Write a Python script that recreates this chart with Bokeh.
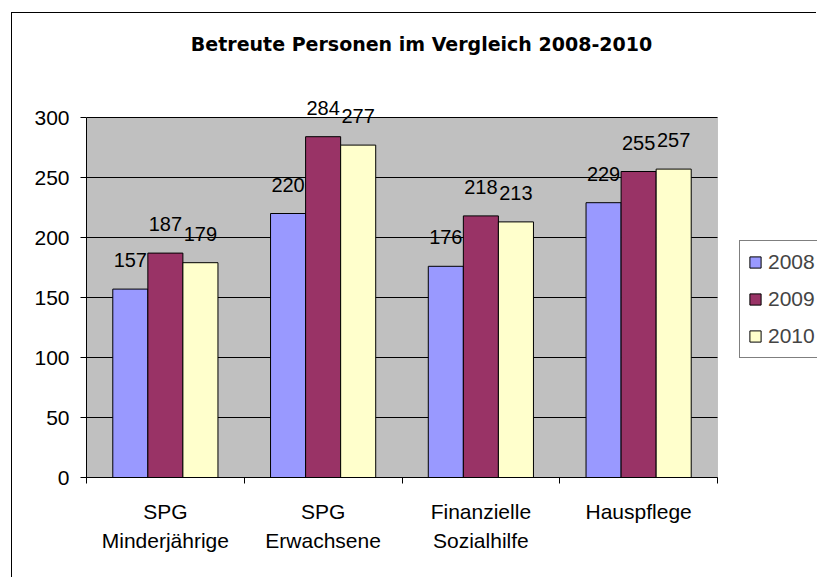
from bokeh.plotting import figure
from bokeh.models import (Range1d, LinearAxis, FixedTicker, ColumnDataSource,
                          LabelSet, Label, Legend, LegendItem, BoxAnnotation)
from bokeh.transform import dodge
from bokeh.core.properties import value
from bokeh.embed import file_html
from bokeh.resources import INLINE

# ---- data ----
categories = ["SPG Minderjährige", "SPG Erwachsene", "Finanzielle Sozialhilfe", "Hauspflege"]
category_labels = ["SPG\nMinderjährige", "SPG\nErwachsene", "Finanzielle\nSozialhilfe", "Hauspflege"]
years = ["2008", "2009", "2010"]
values_2008 = [157, 220, 176, 229]
values_2009 = [187, 284, 218, 255]
values_2010 = [179, 277, 213, 257]
y_ticks = [0, 50, 100, 150, 200, 250, 300]
title_text = "Betreute Personen im Vergleich 2008-2010"

series = [values_2008, values_2009, values_2010]
colors = ["#9999FF", "#993366", "#FFFFCC"]
FONT = "Liberation Sans"

n = len(categories)
centers = [i + 0.5 for i in range(n)]
bounds = list(range(n + 1))

W, H = 805, 565
PLOT_LEFT, PLOT_RIGHT = 74, 705      # gray plot area, canvas px
PLOT_TOP, PLOT_BOTTOM = 104, 464
FRAME_TOP = 10                        # frame extended so labels/legend are not clipped
y_max_axis = y_ticks[-1]
y_top = y_max_axis * (PLOT_BOTTOM - FRAME_TOP) / (PLOT_BOTTOM - PLOT_TOP)
x_top = n * (W - PLOT_LEFT) / (PLOT_RIGHT - PLOT_LEFT)

p = figure(width=W, height=H, x_range=Range1d(0, x_top),
           y_range=Range1d(0, y_top), x_axis_type=None, title=None,
           output_backend="svg", toolbar_location=None,
           min_border_left=PLOT_LEFT, min_border_right=0,
           min_border_top=FRAME_TOP, min_border_bottom=H - PLOT_BOTTOM)
p.margin = (12, 0, 0, 11)
p.styles = {"border-left": "1px solid #000000", "border-top": "1px solid #000000"}
p.background_fill_color = "white"
p.border_fill_color = "white"
p.outline_line_color = None

# gray plot area
p.add_layout(BoxAnnotation(left=0, right=n, bottom=0, top=y_max_axis, fill_color="#C0C0C0",
                           fill_alpha=1, line_color="#808080", line_width=1, level="image"))

# y axis
p.yaxis.ticker = FixedTicker(ticks=y_ticks, minor_ticks=[])
p.yaxis.bounds = (0, y_max_axis)
p.yaxis.major_tick_out = 6
p.yaxis.major_tick_in = 0
p.yaxis.major_label_standoff = 11
p.yaxis.major_label_text_font = FONT
p.yaxis.major_label_text_font_size = "21px"
p.yaxis.major_label_text_color = "black"
p.yaxis.axis_line_color = "black"
p.yaxis.major_tick_line_color = "black"
p.ygrid.visible = False
p.xgrid.visible = False

# horizontal gridlines limited to the plot area
p.segment(x0=[0] * len(y_ticks), x1=[n] * len(y_ticks), y0=y_ticks, y1=y_ticks,
          line_color="black", line_width=1, level="underlay")

# x axis: ticks at category boundaries
bound_axis = LinearAxis(ticker=FixedTicker(ticks=bounds, minor_ticks=[]), bounds=(0, n),
                        major_tick_out=6, major_tick_in=0, major_label_standoff=0,
                        major_label_text_font_size="1px", major_label_text_alpha=0,
                        axis_line_color="black", major_tick_line_color="black")
p.add_layout(bound_axis, "below")
cat_axis = LinearAxis(ticker=FixedTicker(ticks=centers, minor_ticks=[]),
                      major_tick_out=0, major_tick_in=0, axis_line_color=None,
                      major_tick_line_color=None, major_label_standoff=16,
                      major_label_text_font=FONT, major_label_text_font_size="21px",
                      major_label_text_color="black", major_label_text_line_height=1.3,
                      major_label_overrides=dict(zip(centers, category_labels)))
p.add_layout(cat_axis, "below")

bw = 1 / 4.5
offsets = [-bw, 0, bw]
items = []
for yr, vals, col, off in zip(years, series, colors, offsets):
    src = ColumnDataSource(dict(x=centers, cat=categories, v=vals, txt=[str(v) for v in vals]))
    r = p.vbar(x=dodge("x", off), top="v", width=bw, source=src,
               fill_color=col, line_color="black", line_width=1)
    items.append(LegendItem(label=yr, renderers=[r]))
    p.add_layout(LabelSet(x=dodge("x", off), y="v", text="txt", source=src,
                          text_align="center", text_baseline="alphabetic", y_offset=22,
                          text_font=value(FONT), text_font_size="20px", text_color="black"))

legend = Legend(items=items, location=(727 - PLOT_LEFT, PLOT_BOTTOM - 345),
                border_line_color="black", border_line_width=1,
                background_fill_color="white", background_fill_alpha=1, padding=8, spacing=11,
                glyph_width=14, glyph_height=14, label_standoff=6, label_height=26,
                label_text_font=FONT, label_text_font_size="21px", margin=0)
p.add_layout(legend, "center")

p.add_layout(Label(x=409 - PLOT_LEFT, y=PLOT_BOTTOM - 30, x_units="screen", y_units="screen",
                   text=title_text, text_align="center", text_baseline="middle",
                   text_font="DejaVu Sans", text_font_style="bold", text_font_size="19px",
                   text_color="black"))

open("out.html", "w").write(file_html(p, INLINE))
